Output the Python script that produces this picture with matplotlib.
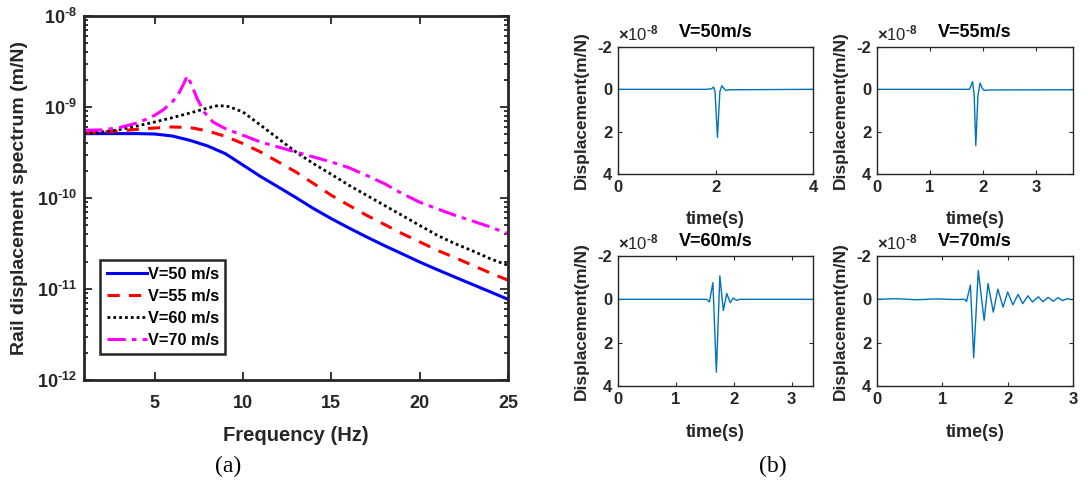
import matplotlib
matplotlib.use("Agg")
import matplotlib.pyplot as plt
from matplotlib.ticker import LogLocator, NullFormatter

plt.rcParams['font.family'] = ['Liberation Sans', 'DejaVu Sans']
plt.rcParams['font.weight'] = 'bold'
plt.rcParams['mathtext.fontset'] = 'custom'
plt.rcParams['mathtext.rm'] = 'Liberation Sans:bold'
plt.rcParams['mathtext.bf'] = 'Liberation Sans:bold'
plt.rcParams['mathtext.it'] = 'Liberation Sans:bold'
plt.rcParams['axes.unicode_minus'] = False

# ---------------- data: panel (a) ----------------
f_std = [1, 2, 3, 4, 5, 6, 7, 8, 9, 10, 11, 12, 13, 14, 15, 16, 17, 18, 19, 20, 21, 22, 23, 24, 25]
s_v50 = [5.09e-10, 5.1e-10, 5.1e-10, 5.1e-10, 5.05e-10, 4.8e-10, 4.3e-10, 3.73e-10, 3.07e-10, 2.3e-10,
         1.72e-10, 1.32e-10, 1.01e-10, 7.64e-11, 5.93e-11, 4.68e-11, 3.73e-11, 3.0e-11, 2.44e-11, 1.98e-11,
         1.63e-11, 1.35e-11, 1.12e-11, 9.3e-12, 7.7e-12]
s_v55 = [5.2e-10, 5.3e-10, 5.45e-10, 5.68e-10, 5.88e-10, 6.03e-10, 5.95e-10, 5.45e-10, 4.76e-10, 3.96e-10,
         3.2e-10, 2.49e-10, 1.93e-10, 1.44e-10, 1.07e-10, 8.3e-11, 6.45e-11, 5.13e-11, 4.07e-11, 3.3e-11,
         2.66e-11, 2.21e-11, 1.82e-11, 1.5e-11, 1.25e-11]
f_v60 = [1, 2, 3, 4, 5, 6, 7, 8, 8.6, 9.2, 10, 11, 12, 13, 14, 15, 16, 17, 18, 19, 20, 21, 22, 23, 24, 25]
s_v60 = [5.1e-10, 5.3e-10, 5.64e-10, 6.18e-10, 6.84e-10, 7.63e-10, 8.59e-10, 9.75e-10, 1.04e-9, 1.01e-9,
         8.81e-10, 6.3e-10, 4.49e-10, 3.2e-10, 2.38e-10, 1.82e-10, 1.38e-10, 1.07e-10, 8.3e-11, 6.45e-11,
         5.0e-11, 3.89e-11, 3.15e-11, 2.62e-11, 2.15e-11, 1.82e-11]
f_v70 = [1, 2, 3, 4, 4.5, 5, 5.5, 6, 6.3, 6.6, 6.85, 7.1, 7.4, 7.8, 8.3, 9, 10, 11, 12, 13, 14, 15, 16,
         17, 18, 19, 20, 21, 22, 23, 24, 25]
s_v70 = [5.55e-10, 5.6e-10, 5.93e-10, 6.67e-10, 7.3e-10, 8.1e-10, 9.35e-10, 1.14e-9, 1.34e-9, 1.73e-9,
         2.2e-9, 1.73e-9, 1.24e-9, 8.8e-10, 6.84e-10, 5.78e-10, 4.89e-10, 4.12e-10, 3.63e-10, 3.2e-10,
         2.82e-10, 2.49e-10, 2.15e-10, 1.77e-10, 1.44e-10, 1.12e-10, 9.0e-11, 7.6e-11, 6.45e-11, 5.58e-11,
         4.8e-11, 4.06e-11]
legend_labels = ['V=50 m/s', 'V=55 m/s', 'V=60 m/s', 'V=70 m/s']
y_decades = [1e-12, 1e-11, 1e-10, 1e-9, 1e-8]
y_decade_labels = [r'$10^{‐12}$', r'$10^{‐11}$', r'$10^{‐10}$', r'$10^{‐9}$', r'$10^{‐8}$']

# ---------------- data: panel (b), displacement in units of 1e-8 m/N ----------------
t_50 = [0, 1.82, 1.92, 1.96, 1.99, 2.04, 2.09, 2.13, 2.17, 2.21, 2.3, 4.0]
d_50 = [0, 0, -0.03, -0.11, 0.1, 2.27, 0.1, -0.17, -0.05, 0.05, 0.02, 0.0]
t_55 = [0, 1.68, 1.74, 1.80, 1.83, 1.86, 1.90, 1.94, 1.98, 2.02, 2.1, 3.69]
d_55 = [0, 0, 0.0, -0.36, 0.3, 2.66, 0.3, -0.30, -0.05, 0.05, 0.03, 0.02]
t_60 = [0, 1.53, 1.58, 1.64, 1.70, 1.76, 1.82, 1.88, 1.94, 1.99, 2.05, 2.1, 3.37]
d_60 = [0, 0, 0.12, -0.77, 3.36, -1.08, 0.52, -0.27, 0.16, -0.06, 0.05, 0.0, 0.0]
t_70 = [0, 0.3, 0.6, 0.9, 1.2, 1.34, 1.37, 1.43, 1.48, 1.55, 1.64, 1.70, 1.78, 1.85, 1.93, 2.0, 2.08,
        2.16, 2.23, 2.31, 2.38, 2.47, 2.54, 2.62, 2.70, 2.77, 2.84, 2.91, 2.96]
d_70 = [0, -0.03, 0.02, -0.02, 0.01, 0.0, 0.1, -0.66, 2.7, -1.33, 0.97, -0.73, 0.59, -0.47, 0.36, -0.34,
        0.25, -0.23, 0.2, -0.16, 0.12, -0.12, 0.11, -0.09, 0.09, -0.08, 0.06, -0.03, 0.0]
sub_titles = ['V=50m/s', 'V=55m/s', 'V=60m/s', 'V=70m/s']
sub_xlims = [4.0, 3.69, 3.37, 3.0]
sub_xticks = [[0, 2, 4], [0, 1, 2, 3], [0, 1, 2, 3], [0, 1, 2, 3]]

W, H = 1088, 493
fig = plt.figure(figsize=(W / 100, H / 100), dpi=100)

def rect(x0, y0, x1, y1):
    return [x0 / W, 1 - y1 / H, (x1 - x0) / W, (y1 - y0) / H]

spine_c = '#262626'

# ---------------- panel (a) ----------------
ax = fig.add_axes(rect(84, 16, 508, 380))
ax.plot(f_std, s_v50, color='#0000ff', lw=2.2, ls='-', label=legend_labels[0])
ax.plot(f_std, s_v55, color='#ff0000', lw=2.2, ls=(0, (4, 3)), label=legend_labels[1])
ax.plot(f_v60, s_v60, color='#000000', lw=2.0, ls=(0, (1, 1.1)), label=legend_labels[2])
ax.plot(f_v70, s_v70, color='#ff00ff', lw=2.2, ls=(0, (6, 2, 1.5, 2)), label=legend_labels[3])
ax.set_yscale('log')
ax.set_xlim(1, 25)
ax.set_ylim(1e-12, 1e-8)
ax.set_xticks([5, 10, 15, 20, 25])
ax.set_yticks(y_decades)
ax.set_yticklabels(y_decade_labels)
ax.yaxis.set_minor_locator(LogLocator(base=10, subs=range(2, 10), numticks=20))
ax.yaxis.set_minor_formatter(NullFormatter())
ax.tick_params(which='both', direction='in', top=True, right=True, colors=spine_c, width=1.3)
ax.tick_params(which='major', length=6, labelsize=13, labelcolor='#262626')
ax.tick_params(axis='x', which='major', pad=11)
ax.tick_params(axis='y', which='major', pad=5)
ax.tick_params(which='minor', length=3)
for s in ax.spines.values():
    s.set_linewidth(2.0)
    s.set_color(spine_c)
ax.set_xlabel('Frequency (Hz)', fontsize=14.5, fontweight='bold', color='#262626', labelpad=10)
ax.set_ylabel('Rail displacement spectrum (m/N)', fontsize=14, fontweight='bold', color='#262626')
ax.yaxis.set_label_coords(-0.133, 0.5)
leg = ax.legend(loc='lower left', bbox_to_anchor=(0.038, 0.071), borderaxespad=0,
                prop={'size': 11.8, 'weight': 'bold'}, handlelength=2.45, handletextpad=0.05,
                labelspacing=0.42, borderpad=0.4, fancybox=False, framealpha=1)
leg.get_frame().set_edgecolor('#262626')
leg.get_frame().set_linewidth(1.8)

fig.text(228 / W, 1 - 466 / H, '(a)', fontsize=17, family='Liberation Serif', fontweight='normal',
         ha='center', va='center')
fig.text(773 / W, 1 - 466 / H, '(b)', fontsize=17, family='Liberation Serif', fontweight='normal',
         ha='center', va='center')

# ---------------- panel (b) ----------------
rects = [rect(618, 47, 813, 174), rect(877, 47, 1073, 174),
         rect(618, 256, 813, 386), rect(877, 256, 1073, 386)]
series = [(t_50, d_50), (t_55, d_55), (t_60, d_60), (t_70, d_70)]
for i in range(4):
    a = fig.add_axes(rects[i])
    t, d = series[i]
    a.plot(t, d, color='#0072BD', lw=1.0)
    a.set_xlim(0, sub_xlims[i])
    a.set_ylim(4, -2)
    a.set_yticks([-2, 0, 2, 4])
    a.set_xticks(sub_xticks[i])
    a.tick_params(direction='in', top=True, right=True, length=3, width=0.8, colors=spine_c,
                  labelsize=12, pad=4)
    for s in a.spines.values():
        s.set_linewidth(1.0)
        s.set_color(spine_c)
    a.set_title(sub_titles[i], fontsize=13, fontweight='bold', pad=7)
    a.set_ylabel('Displacement(m/N)', fontsize=12.5, fontweight='bold', color='#262626')
    a.yaxis.set_label_coords(-0.15, 0.5)
    a.set_xlabel('time(s)', fontsize=13, fontweight='bold', color='#262626')
    a.xaxis.set_label_coords(0.5, -0.29)
    a.text(0.0, 1.03, r'$\times$10$^{‐8}$', transform=a.transAxes, fontsize=12,
           fontweight='normal', ha='left', va='bottom', color='#262626',
           family='Liberation Sans')

fig.savefig('out.png', dpi=100)
